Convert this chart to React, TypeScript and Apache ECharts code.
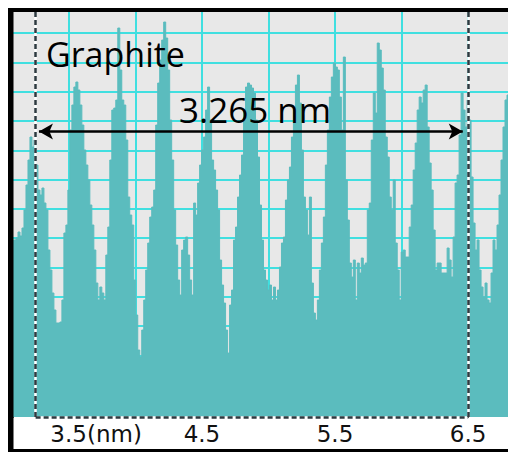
import React, { useEffect, useRef } from "react";
import * as echarts from "echarts";

// Profile samples: position (nm) of first sample and scan step (nm)
const X_START = 3.08;
const X_STEP = 0.015;
const X_MIN = 3.08;
const X_MAX = 6.8;
const Y_MIN = -3;
const Y_MAX = 402;
const Y_GRID = 29.3;

// profile heights (arbitrary units), read column by column
const heights = [
  174, 174, 176, 182, 178, 186, 204, 229, 254, 277, 267, 274, 249, 224, 219, 226,
  211, 204, 164, 144, 121, 104, 91, 91, 92, 114, 181, 189, 224, 284, 309, 327,
  332, 324, 309, 289, 264, 249, 234, 209, 189, 164, 131, 114, 127, 121, 114, 159,
  187, 254, 304, 306, 314, 386, 344, 314, 309, 274, 217, 199, 189, 134, 99, 64,
  57, 84, 114, 144, 171, 197, 207, 224, 289, 331, 354, 374, 392, 376, 344, 294,
  254, 204, 169, 134, 119, 164, 174, 177, 159, 134, 119, 211, 199, 231, 249, 264,
  277, 304, 327, 294, 254, 244, 224, 204, 154, 129, 111, 84, 61, 109, 124, 174,
  187, 217, 239, 259, 304, 327, 331, 329, 326, 321, 294, 257, 209, 174, 144, 134,
  124, 129, 114, 127, 114, 124, 147, 171, 177, 214, 234, 247, 277, 304, 329, 339,
  311, 264, 217, 204, 179, 217, 131, 101, 94, 114, 144, 171, 197, 249, 284, 317,
  337, 351, 347, 344, 317, 284, 357, 234, 194, 151, 137, 154, 114, 151, 141, 156,
  149, 151, 204, 211, 274, 321, 301, 371, 364, 346, 324, 277, 257, 217, 204, 234,
  171, 144, 114, 162, 164, 157, 157, 187, 209, 244, 271, 304, 317, 311, 324, 329,
  287, 251, 224, 184, 144, 151, 151, 141, 141, 141, 166, 154, 137, 177, 231, 239,
  279, 321, 304, 287, 314, 294, 237, 191, 164, 174, 144, 127, 117, 131, 114, 111,
  141, 174, 164, 189, 219, 254, 287, 314, 319,
];

const labelledTicks = [3.5, 4.5, 5.5, 6.5];
const unitSuffix = "(nm)";

const markerStart = 3.25;
const markerEnd = 6.5;
const arrowFrom = 3.275;
const arrowTo = 6.46;
const arrowLevel = 282.5;
const distanceText = "3.265 nm";
const sampleName = "Graphite";

const TEAL = "#5bbcbe";
const GRID_CYAN = "#40dfe0";
const LABEL_FONT = "DejaVu Sans";

export default function App() {
  const ref = useRef<HTMLDivElement>(null);

  useEffect(() => {
    if (!ref.current) return;
    const chart = echarts.init(ref.current, undefined, { renderer: "svg" });
    const data = heights.map((h, i) => [X_START + i * X_STEP, h]);

    const isLabelled = (v: number) =>
      labelledTicks.some((t) => Math.abs(t - v) < 1e-6);

    const white = { color: "#ffffff", width: 2.5, type: "solid" as const };
    const dark = { color: "#2e3a40", width: 2.5, type: [5, 3] as any };

    chart.setOption({
      animation: false,
      backgroundColor: "#ffffff",
      grid: {
        left: 13,
        right: 0,
        top: 12,
        bottom: 35,
        containLabel: false,
        outerBoundsMode: "none",
        show: true,
        backgroundColor: "#e8e8e8",
        borderWidth: 0,
      },
      xAxis: {
        type: "value",
        min: X_MIN,
        max: X_MAX,
        minInterval: 0.5,
        maxInterval: 0.5,
        axisLine: { show: false },
        axisTick: { show: true, length: 4, lineStyle: { color: "#555", width: 1 } },
        splitLine: {
          show: true,
          showMinLine: false,
          showMaxLine: false,
          lineStyle: { color: GRID_CYAN, width: 2 },
        },
        axisLabel: {
          show: true,
          margin: 5,
          color: "#111",
          fontFamily: LABEL_FONT,
          fontSize: 23,
          formatter: (v: number) => {
            if (!isLabelled(v)) return "";
            if (Math.abs(v - labelledTicks[0]) < 1e-6)
              return `{first|${v.toFixed(1)}${unitSuffix}}`;
            return v.toFixed(1);
          },
          rich: {
            first: {
              color: "#111",
              fontFamily: LABEL_FONT,
              fontSize: 23,
              width: 146,
              align: "right",
            },
          },
        },
      },
      yAxis: {
        type: "value",
        min: Y_MIN,
        max: Y_MAX,
        minInterval: Y_GRID,
        maxInterval: Y_GRID,
        axisLine: { show: false },
        axisTick: { show: false },
        axisLabel: { show: false },
        splitLine: {
          show: true,
          showMinLine: false,
          showMaxLine: false,
          lineStyle: { color: GRID_CYAN, width: 2 },
        },
      },
      series: [
        {
          type: "line",
          step: "middle",
          data,
          showSymbol: false,
          symbol: "none",
          lineStyle: { color: TEAL, width: 1 },
          areaStyle: { color: TEAL, opacity: 1, origin: "start" },
          emphasis: { disabled: true },
          silent: true,
        },
        {
          type: "line",
          data: [],
          silent: true,
          markLine: {
            silent: true,
            symbol: ["none", "none"],
            label: { show: false },
            emphasis: { disabled: true },
            animation: false,
            data: [
              { xAxis: markerStart, lineStyle: white },
              { xAxis: markerEnd, lineStyle: white },
              [
                { coord: [markerStart, Y_MIN], lineStyle: white },
                { coord: [markerEnd, Y_MIN] },
              ],
              { xAxis: markerStart, lineStyle: dark },
              { xAxis: markerEnd, lineStyle: dark },
              [
                { coord: [markerStart, Y_MIN], lineStyle: dark },
                { coord: [markerEnd, Y_MIN] },
              ],
            ],
          },
        },
        {
          type: "line",
          data: [],
          silent: true,
          markLine: {
            silent: true,
            symbol: ["arrow", "arrow"],
            symbolSize: [12, 14],
            label: { show: false },
            emphasis: { disabled: true },
            animation: false,
            lineStyle: { color: "#000", width: 2.5, type: "solid" },
            data: [[{ coord: [arrowFrom, arrowLevel] }, { coord: [arrowTo, arrowLevel] }]],
          },
        },
      ],
      graphic: [
        { type: "rect", z: 100, shape: { x: 8, y: 8, width: 5.5, height: 444 }, style: { fill: "#000" } },
        { type: "rect", z: 100, shape: { x: 8, y: 8, width: 500, height: 4 }, style: { fill: "#000" } },
        { type: "rect", z: 100, shape: { x: 8, y: 449, width: 500, height: 3 }, style: { fill: "#000" } },
        {
          type: "text",
          z: 100,
          x: 46,
          y: 54,
          style: {
            text: sampleName,
            fontSize: 34,
            fontFamily: "Open Sans",
            fill: "#000",
            align: "left",
            verticalAlign: "middle",
          },
        },
        {
          type: "text",
          z: 100,
          x: 179,
          y: 109,
          style: {
            text: distanceText,
            fontSize: 35,
            fontFamily: "Open Sans",
            fill: "#000",
            align: "left",
            verticalAlign: "middle",
          },
        },
      ],
    });

    return () => chart.dispose();
  }, []);

  return (
    <div
      ref={ref}
      style={{ position: "absolute", left: 0, top: 0, width: 508, height: 452 }}
    />
  );
}
